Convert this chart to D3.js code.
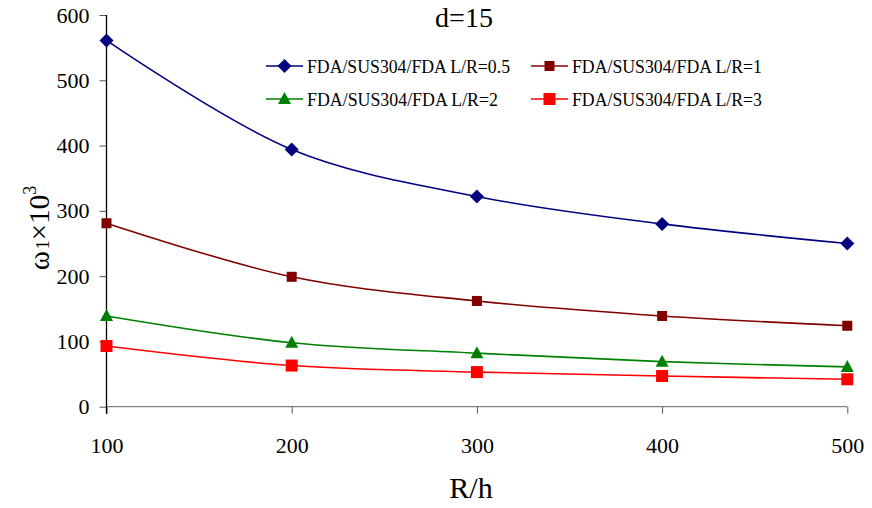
<!DOCTYPE html>
<html><head><meta charset="utf-8">
<script src="https://cdn.jsdelivr.net/npm/d3@7"></script>
<style>body{margin:0;background:#fff}svg{display:block}svg text{font-family:"Liberation Serif","Times New Roman",serif}</style>
</head><body><svg id="c" width="872" height="508"></svg>
<script>
const xValues = [100, 200, 300, 400, 500];
const seriesNames = ["FDA/SUS304/FDA L/R=0.5", "FDA/SUS304/FDA L/R=1", "FDA/SUS304/FDA L/R=2", "FDA/SUS304/FDA L/R=3"];
const s05 = [561, 394, 322, 280, 250];
const s1 = [281, 199, 162, 139, 124];
const s2 = [139, 98, 82, 69, 61];
const s3 = [93, 63, 53, 47, 42];
const xTicks = [100, 200, 300, 400, 500];
const yTicks = [0, 100, 200, 300, 400, 500, 600];
const colors = ["#000080", "#800000", "#008000", "#ff0000"];
const markers = ["diamond", "smallsquare", "triangle", "square"];
const title = "d=15";
const xTitle = "R/h";

const svg = d3.select("#c");
const x = d3.scaleLinear().domain([100, 500]).range([106.5, 847.3]);
const y = d3.scaleLinear().domain([0, 600]).range([406.7, 15]);
const series = [s05, s1, s2, s3];

// axes
const gy = svg.append("g").attr("transform", `translate(${x(100)},0)`)
  .call(d3.axisLeft(y).tickValues(yTicks).tickSize(7).tickPadding(10).tickFormat(d3.format("d")));
gy.select(".domain").remove();
gy.selectAll(".tick line").attr("stroke", "#555");
gy.selectAll("text").attr("font-size", 22).attr("fill", "#000");

const gx = svg.append("g").attr("transform", `translate(0,${y(0)})`)
  .call(d3.axisBottom(x).tickValues(xTicks).tickSize(7).tickPadding(24).tickFormat(d3.format("d")));
gx.select(".domain").attr("d", `M${x(100)},0H${x(500)}`).attr("stroke", "#808080").attr("stroke-width", 1.3);
gx.selectAll(".tick line").attr("stroke", "#555");
gx.selectAll("text").attr("font-size", 22).attr("fill", "#000");

svg.append("line").attr("x1", x(100)).attr("x2", x(100)).attr("y1", y(600)).attr("y2", y(0) + 7)
  .attr("stroke", "#000").attr("stroke-width", 1.3);

function drawMarker(g, type, cx, cy, color) {
  if (type === "diamond") {
    g.append("path").attr("d", `M${cx},${cy - 7}L${cx + 7},${cy}L${cx},${cy + 7}L${cx - 7},${cy}Z`).attr("fill", color);
  } else if (type === "smallsquare") {
    g.append("rect").attr("x", cx - 5).attr("y", cy - 5).attr("width", 10).attr("height", 10).attr("fill", color);
  } else if (type === "square") {
    g.append("rect").attr("x", cx - 6).attr("y", cy - 6).attr("width", 12).attr("height", 12).attr("fill", color);
  } else {
    g.append("path").attr("d", `M${cx},${cy - 7}L${cx + 6.5},${cy + 5}L${cx - 6.5},${cy + 5}Z`).attr("fill", color);
  }
}

const line = d3.line().x((d, i) => x(xValues[i])).y(d => y(d)).curve(d3.curveCatmullRom.alpha(0.5));
series.forEach((s, k) => {
  const g = svg.append("g");
  g.append("path").attr("d", line(s)).attr("fill", "none").attr("stroke", colors[k]).attr("stroke-width", 1.6);
  s.forEach((v, i) => drawMarker(g, markers[k], x(xValues[i]), y(v), colors[k]));
});

// legend
const legPos = [[266, 66], [531, 66], [266, 99], [531, 99]];
const legLen = [203, 190, 191, 190];
seriesNames.forEach((n, k) => {
  const [lx, ly] = legPos[k];
  const g = svg.append("g");
  g.append("line").attr("x1", lx).attr("x2", lx + 37).attr("y1", ly).attr("y2", ly).attr("stroke", colors[k]).attr("stroke-width", 1.6);
  drawMarker(g, markers[k], lx + 18.5, ly, colors[k]);
  g.append("text").attr("x", lx + 41).attr("y", ly + 7).attr("font-size", 19.5)
    .attr("textLength", legLen[k]).attr("lengthAdjust", "spacingAndGlyphs").text(n);
});

// titles
svg.append("text").attr("x", 464).attr("y", 27).attr("text-anchor", "middle").attr("font-size", 28).text(title);
svg.append("text").attr("x", 471).attr("y", 498).attr("text-anchor", "middle").attr("font-size", 30).text(xTitle);
const yt = svg.append("text").attr("transform", "translate(49,228) rotate(-90)").attr("text-anchor", "middle").attr("font-size", 29);
yt.append("tspan").text("ω");
yt.append("tspan").attr("font-size", 18).attr("dx", 2).text("1");
yt.append("tspan").text("×10");
yt.append("tspan").attr("font-size", 18).attr("dy", -13).text("3");
</script></body></html>
